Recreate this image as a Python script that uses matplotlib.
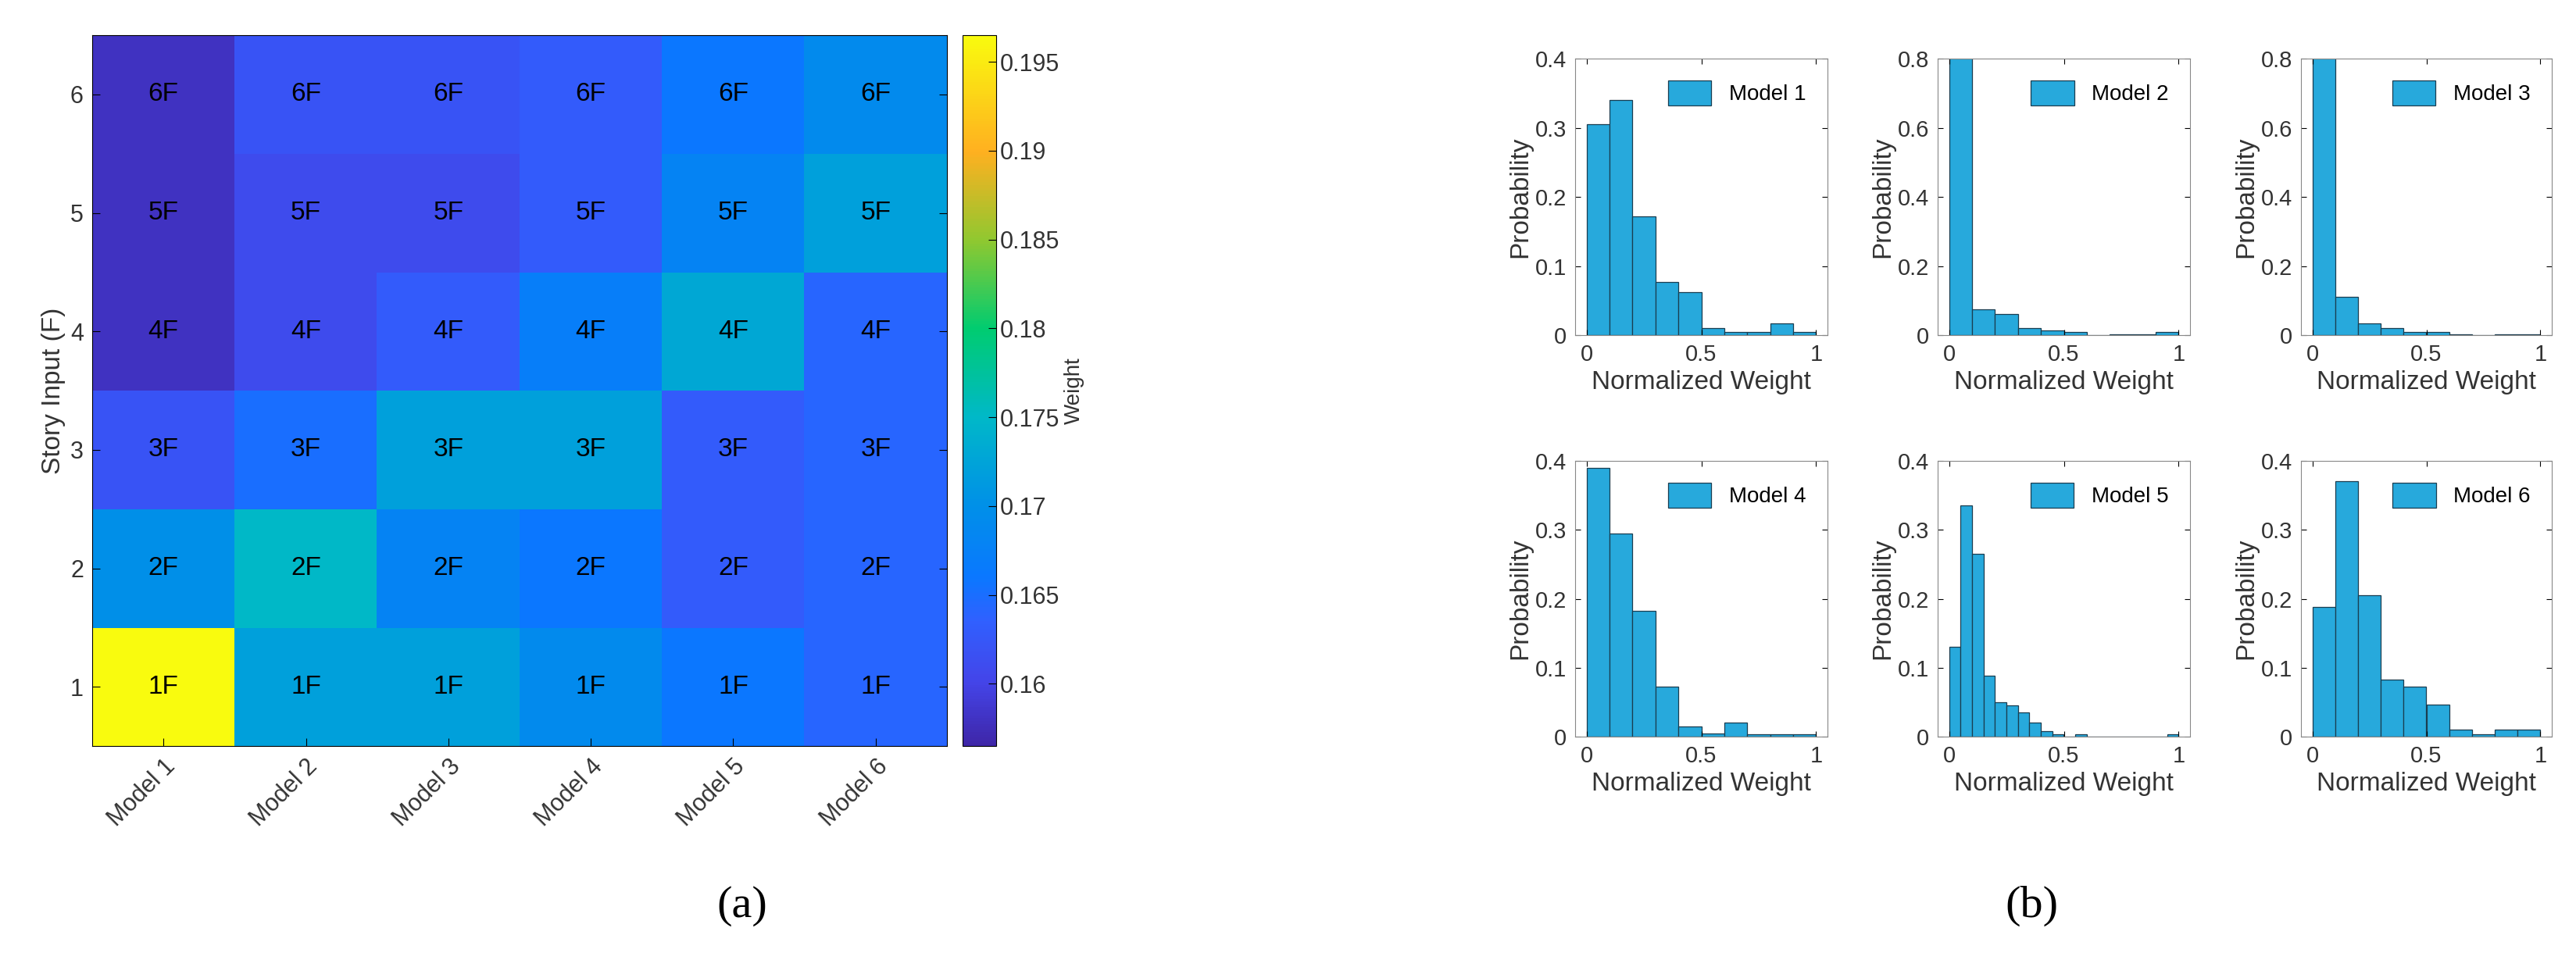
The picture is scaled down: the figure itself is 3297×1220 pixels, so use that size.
import numpy as np
import matplotlib
matplotlib.use("Agg")
import matplotlib.pyplot as plt
from matplotlib.colors import LinearSegmentedColormap

# heatmap data: rows = story 1F..6F, cols = Model 1..6
models = ["Model 1", "Model 2", "Model 3", "Model 4", "Model 5", "Model 6"]
stories = [1, 2, 3, 4, 5, 6]
weights = np.array([
    [0.1965, 0.172, 0.172, 0.169, 0.166, 0.164],
    [0.170, 0.175, 0.168, 0.166, 0.163, 0.164],
    [0.162, 0.165, 0.172, 0.172, 0.163, 0.164],
    [0.158, 0.161, 0.163, 0.167, 0.173, 0.164],
    [0.158, 0.161, 0.161, 0.163, 0.168, 0.172],
    [0.158, 0.162, 0.162, 0.163, 0.166, 0.169],
])
cbar_ticks = [0.16, 0.165, 0.17, 0.175, 0.18, 0.185, 0.19, 0.195]

# histogram probabilities per bin
edges_10 = np.linspace(0, 1, 11)
edges_20 = np.linspace(0, 1, 21)
hist_m1 = [0.305, 0.34, 0.172, 0.077, 0.062, 0.01, 0.005, 0.005, 0.017, 0.005]
hist_m2 = [0.85, 0.075, 0.06, 0.02, 0.013, 0.008, 0.0, 0.003, 0.003, 0.008]
hist_m3 = [0.85, 0.11, 0.035, 0.02, 0.008, 0.008, 0.002, 0.0, 0.002, 0.002]
hist_m4 = [0.39, 0.295, 0.183, 0.073, 0.015, 0.005, 0.02, 0.003, 0.003, 0.003]
hist_m5 = [0.13, 0.335, 0.265, 0.088, 0.05, 0.045, 0.035, 0.02, 0.008, 0.003,
           0.0, 0.003, 0.0, 0.0, 0.0, 0.0, 0.0, 0.0, 0.0, 0.003]
hist_m6 = [0.188, 0.37, 0.205, 0.083, 0.073, 0.047, 0.01, 0.003, 0.01, 0.01]
hists = [(hist_m1, edges_10, 0.4), (hist_m2, edges_10, 0.8), (hist_m3, edges_10, 0.8),
         (hist_m4, edges_10, 0.4), (hist_m5, edges_20, 0.4), (hist_m6, edges_10, 0.4)]

vmin, vmax = 0.1565, 0.1965
anchors = [(0.1565, "#3e26a8"), (0.160, "#4444e8"), (0.1635, "#3060ff"),
           (0.166, "#0a78ff"), (0.170, "#0090e8"), (0.175, "#00b8c8"),
           (0.180, "#00cc70"), (0.185, "#90c830"), (0.190, "#ffb020"),
           (0.1965, "#f9fb0e")]
parula = LinearSegmentedColormap.from_list(
    "parula_like", [((v - vmin) / (vmax - vmin), c) for v, c in anchors])

plt.rcParams["font.family"] = "Liberation Sans"
W, H = 3297, 1220
fig = plt.figure(figsize=(W / 100, H / 100), dpi=100)

def rect(x0, y0, x1, y1):
    return [x0 / W, 1 - y1 / H, (x1 - x0) / W, (y1 - y0) / H]

ax = fig.add_axes(rect(118, 45, 1212, 955))
im = ax.imshow(weights, cmap=parula, vmin=vmin, vmax=vmax, origin="lower",
               aspect="auto", extent=(0.5, 6.5, 0.5, 6.5))
for i, s in enumerate(stories):
    for j in range(len(models)):
        ax.text(j + 1, s, f"{s}F", ha="center", va="center", fontsize=24)
ax.set_xticks(range(1, 7))
ax.set_xticklabels(models, rotation=45, ha="right", rotation_mode="anchor",
                   fontsize=22, color="#333333")
ax.set_yticks(stories)
ax.tick_params(axis="y", labelsize=22, labelcolor="#333333")
ax.tick_params(direction="in", length=7, top=False, right=True, pad=8)
ax.set_ylabel("Story Input (F)", fontsize=24, color="#333333")

cax = fig.add_axes(rect(1232, 45, 1275, 955))
cb = fig.colorbar(im, cax=cax, ticks=cbar_ticks)
cb.ax.set_yticklabels([f"{t:g}" for t in cbar_ticks])
cb.ax.tick_params(labelsize=22, labelcolor="#333333", direction="in", length=7)
cb.set_label("Weight", fontsize=20, color="#333333")

fig.text(950 / W, 1 - 1160 / H, "(a)", ha="center", va="center",
         fontsize=42, family="Liberation Serif")
fig.text(2600 / W, 1 - 1160 / H, "(b)", ha="center", va="center",
         fontsize=42, family="Liberation Serif")

cols = [(2016, 2339), (2480, 2803), (2945, 3266)]
rows = [(75, 429), (590, 943)]
for k, (vals, edges, ymax) in enumerate(hists):
    x0, x1 = cols[k % 3]
    y0, y1 = rows[k // 3]
    hax = fig.add_axes(rect(x0, y0, x1, y1))
    hax.bar(edges[:-1], vals, width=np.diff(edges), align="edge",
            color="#27a9dc", edgecolor="#1a3d50", linewidth=0.9, label=models[k])
    hax.set_xlim(-0.05, 1.05)
    hax.set_ylim(0, ymax)
    hax.set_xticks([0, 0.5, 1])
    hax.set_xticklabels(["0", "0.5", "1"])
    yt = np.linspace(0, ymax, 5)
    hax.set_yticks(yt)
    hax.set_yticklabels(["0"] + [f"{t:.1f}" for t in yt[1:]])
    hax.tick_params(labelsize=21, direction="in", length=5, top=True, right=True,
                    labelcolor="#333333", pad=8)
    for sp in hax.spines.values():
        sp.set_color("#888888")
    hax.set_xlabel("Normalized Weight", fontsize=24, color="#333333")
    hax.set_ylabel("Probability", fontsize=24, color="#333333", labelpad=2)
    hax.legend(loc="upper right", fontsize=20, frameon=False, handlelength=2.0,
               handleheight=1.4, borderaxespad=0.6)

fig.savefig("out.png", dpi=100)
